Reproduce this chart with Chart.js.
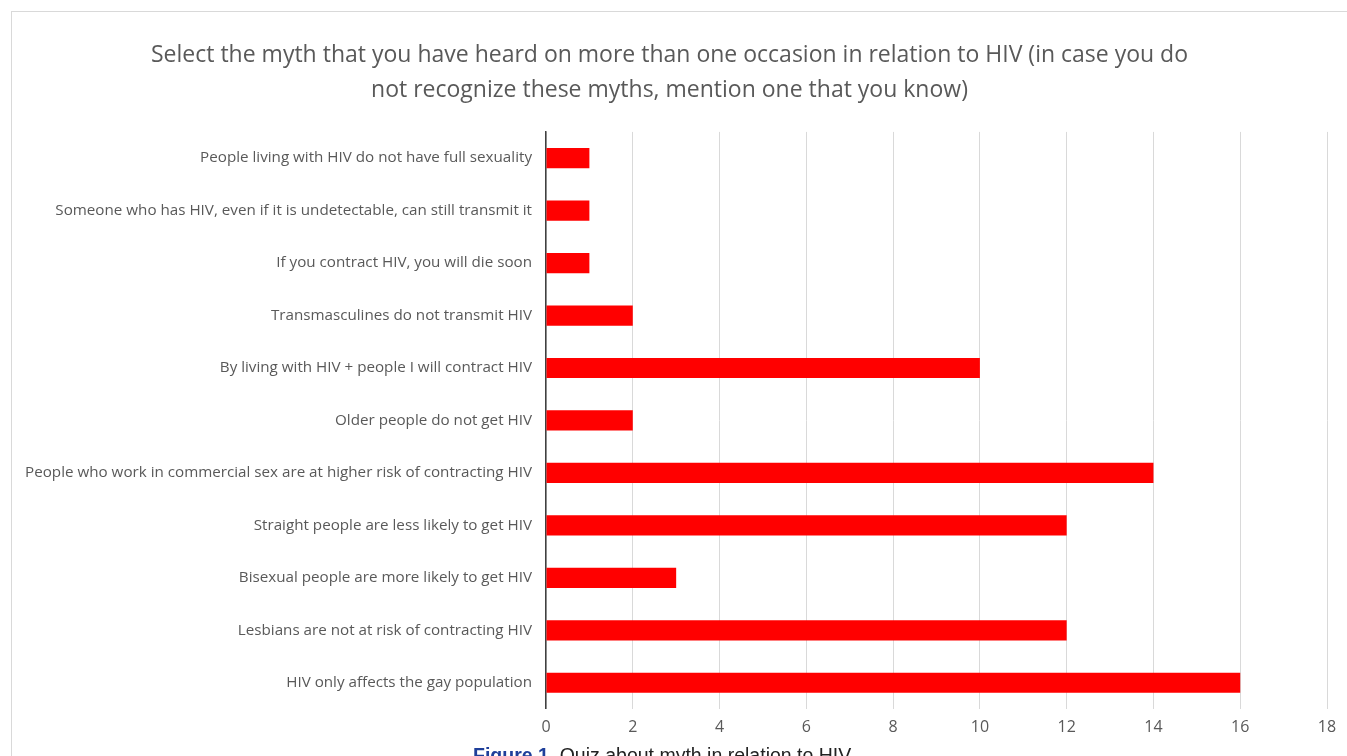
<!DOCTYPE html>
<html>
<head>
<meta charset="utf-8">
<script src="https://cdn.jsdelivr.net/npm/chart.js@4.4.1/dist/chart.umd.min.js"></script>
<style>
  html, body { margin: 0; padding: 0; background: #fff; width: 1347px; height: 756px; overflow: hidden; }
  #box { position: absolute; left: 11px; top: 11px; width: 1345px; height: 760px; border-left: 1px solid #d9d9d9; border-top: 1px solid #d9d9d9; box-sizing: border-box; }
  #wrap { position: absolute; left: 12px; top: 12px; width: 1335px; height: 744px; }
  #caption { position: absolute; left: 473px; top: 746px; line-height: 1; font-family: "Liberation Sans", Arial, sans-serif; font-size: 19.5px; color: #222; white-space: nowrap; }
  #caption b { color: #1f3f9a; }
</style>
</head>
<body>
<div id="box"></div>
<div id="wrap"><canvas id="c"></canvas></div>
<div id="caption"><b>Figure 1.</b> Quiz about myth in relation to HIV</div>
<script>
const titleLines = [
  "Select the myth that you have heard on more than one occasion in relation to HIV (in case you do",
  "not recognize these myths, mention one that you know)"
];
const categories = [
  "People living with HIV do not have full sexuality",
  "Someone who has HIV, even if it is undetectable, can still transmit it",
  "If you contract HIV, you will die soon",
  "Transmasculines do not transmit HIV",
  "By living with HIV + people I will contract HIV",
  "Older people do not get HIV",
  "People who work in commercial sex are at higher risk of contracting HIV",
  "Straight people are less likely to get HIV",
  "Bisexual people are more likely to get HIV",
  "Lesbians are not at risk of contracting HIV",
  "HIV only affects the gay population"
];
const counts = [1, 1, 1, 2, 10, 2, 14, 12, 3, 12, 16];
const xMin = 0, xMax = 18, xStep = 2;

new Chart(document.getElementById('c'), {
  type: 'bar',
  data: {
    labels: categories,
    datasets: [{
      data: counts,
      backgroundColor: '#ff0000',
      borderWidth: 0,
      barPercentage: 0.77,
      categoryPercentage: 0.5
    }]
  },
  options: {
    indexAxis: 'y',
    responsive: true,
    maintainAspectRatio: false,
    animation: false,
    layout: { padding: { left: 0, right: 20, top: 0, bottom: 0 } },
    plugins: {
      legend: { display: false },
      tooltip: { enabled: false },
      title: {
        display: true,
        text: titleLines,
        color: '#595959',
        font: { family: '"Open Sans", sans-serif', size: 23, weight: 'normal', lineHeight: 1.52 },
        padding: { top: 26, bottom: 24 }
      }
    },
    scales: {
      x: {
        min: xMin, max: xMax,
        ticks: { stepSize: xStep, color: '#595959', padding: 9, font: { family: '"Open Sans", sans-serif', size: 16 } },
        grid: { color: '#d9d9d9', lineWidth: 1, drawTicks: false },
        border: { display: false },
        afterFit(scale) { scale.height = 47; }
      },
      y: {
        ticks: { color: '#595959', padding: 14, autoSkip: false, font: { family: '"Open Sans", sans-serif', size: 15.2 } },
        grid: { display: false, drawTicks: false },
        border: { display: true, color: '#404040', width: 1.5 },
        afterFit(scale) { scale.width = 534; }
      }
    }
  }
});
</script>
</body>
</html>
